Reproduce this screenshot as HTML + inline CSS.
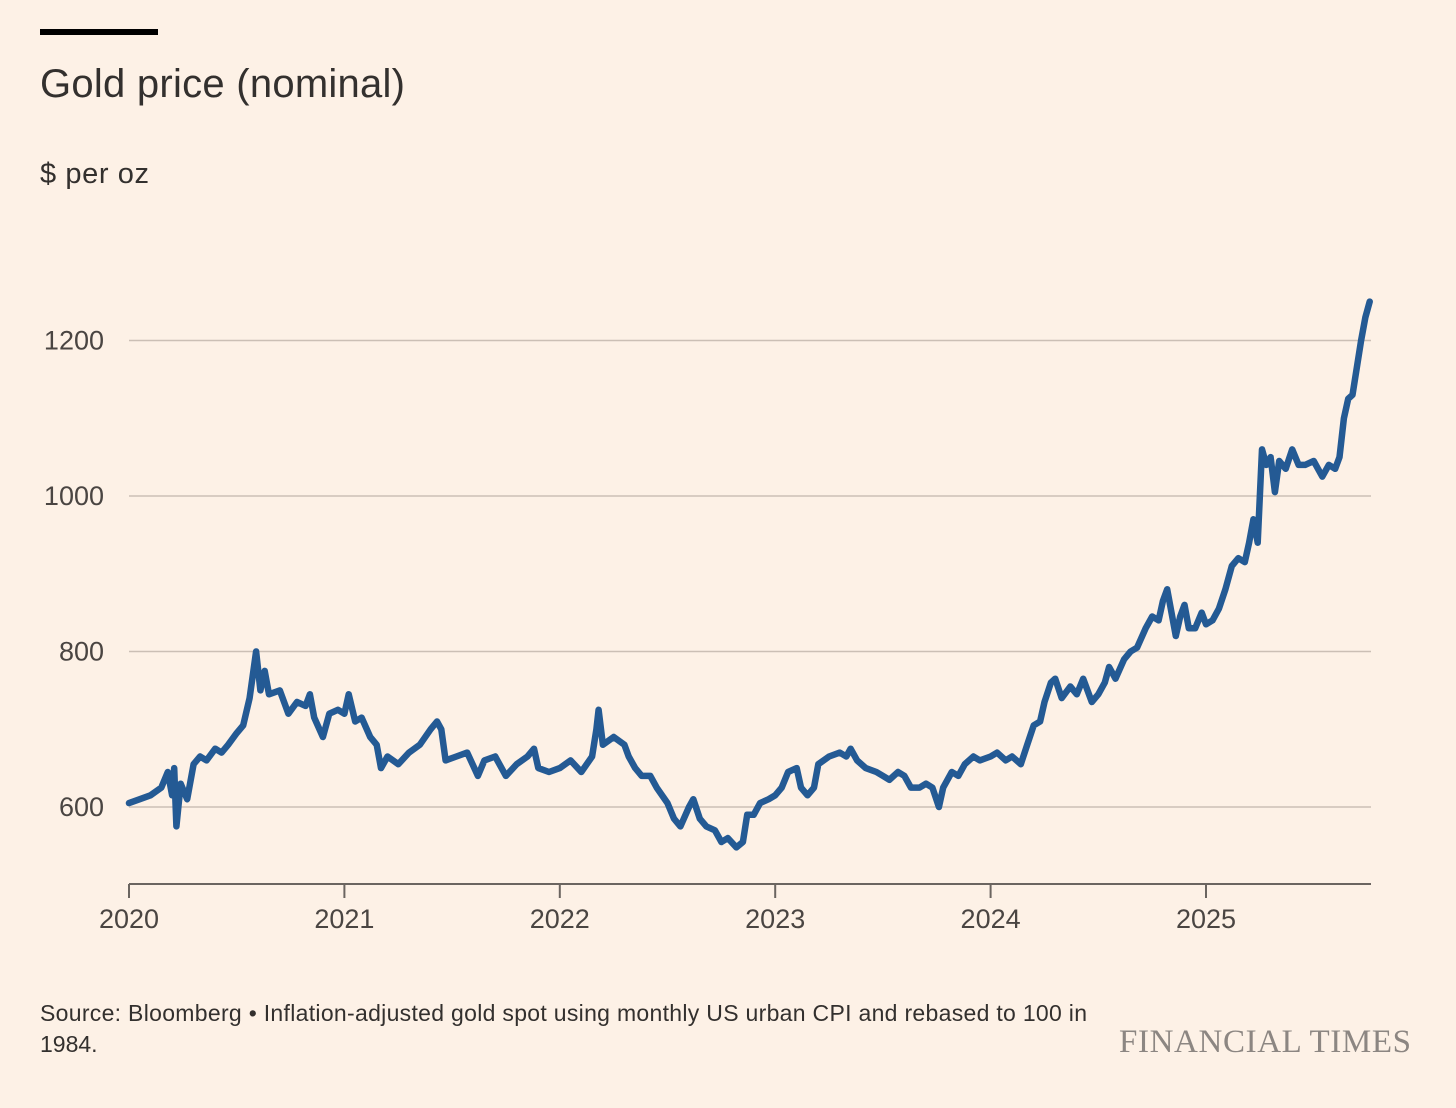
<!DOCTYPE html>
<html><head><meta charset="utf-8">
<style>
html,body{margin:0;padding:0;background:#fdf1e6;}
body{width:1456px;height:1103px;overflow:hidden;position:relative;font-family:"Liberation Sans",sans-serif;color:#33302e;}
</style></head>
<body>
<svg id="chart" width="1456" height="1103" viewBox="0 0 1456 1103">
<rect x="40" y="29" width="118" height="6" fill="#000"/>
<text x="40" y="97" font-size="40" fill="#33302e" textLength="365">Gold price (nominal)</text>
<text x="40" y="183" font-size="29" fill="#33302e" textLength="109">$ per oz</text>
<g id="grid"></g>
<g id="xaxis"></g>
<path id="line" fill="none" stroke="#245a94" stroke-width="6.5" stroke-linejoin="round" stroke-linecap="round"/>
<text x="40" y="1021" font-size="23" fill="#33302e" textLength="1047">Source: Bloomberg • Inflation-adjusted gold spot using monthly US urban CPI and rebased to 100 in</text>
<text x="40" y="1052" font-size="23" fill="#33302e">1984.</text>
<text x="1411" y="1052" font-size="33" text-anchor="end" fill="#8c8682" font-family="Liberation Serif, serif" textLength="292">FINANCIAL TIMES</text>
</svg>
<script>
const yTicks=[600,800,1000,1200];
const xTicks=[2020,2021,2022,2023,2024,2025];
const dates=[2020.0,2020.05,2020.1,2020.15,2020.18,2020.2,2020.21,2020.22,2020.24,2020.27,2020.3,2020.33,2020.36,2020.4,2020.43,2020.46,2020.5,2020.53,2020.56,2020.59,2020.61,2020.63,2020.65,2020.7,2020.74,2020.78,2020.82,2020.84,2020.86,2020.9,2020.93,2020.97,2021.0,2021.02,2021.05,2021.08,2021.12,2021.15,2021.17,2021.2,2021.25,2021.3,2021.35,2021.4,2021.43,2021.45,2021.47,2021.52,2021.57,2021.62,2021.65,2021.7,2021.75,2021.8,2021.85,2021.88,2021.9,2021.95,2022.0,2022.05,2022.1,2022.15,2022.17,2022.18,2022.2,2022.25,2022.3,2022.32,2022.35,2022.38,2022.42,2022.45,2022.5,2022.53,2022.56,2022.6,2022.62,2022.65,2022.68,2022.72,2022.75,2022.78,2022.82,2022.85,2022.87,2022.9,2022.93,2022.97,2023.0,2023.03,2023.06,2023.1,2023.12,2023.15,2023.18,2023.2,2023.25,2023.3,2023.33,2023.35,2023.38,2023.42,2023.47,2023.5,2023.53,2023.57,2023.6,2023.63,2023.67,2023.7,2023.73,2023.76,2023.78,2023.82,2023.85,2023.88,2023.92,2023.95,2024.0,2024.03,2024.07,2024.1,2024.14,2024.17,2024.2,2024.23,2024.25,2024.28,2024.3,2024.33,2024.37,2024.4,2024.43,2024.47,2024.5,2024.53,2024.55,2024.58,2024.62,2024.65,2024.68,2024.72,2024.75,2024.78,2024.8,2024.82,2024.84,2024.86,2024.88,2024.9,2024.92,2024.95,2024.98,2025.0,2025.03,2025.06,2025.09,2025.12,2025.15,2025.18,2025.2,2025.22,2025.24,2025.26,2025.28,2025.3,2025.32,2025.34,2025.37,2025.4,2025.43,2025.46,2025.5,2025.52,2025.54,2025.57,2025.6,2025.62,2025.64,2025.66,2025.68,2025.7,2025.72,2025.74,2025.76];
const prices=[605,610,615,625,645,615,650,575,630,610,655,665,660,675,670,680,695,705,740,800,750,775,745,750,720,735,730,745,715,690,720,725,720,745,710,715,690,680,650,665,655,670,680,700,710,700,660,665,670,640,660,665,640,655,665,675,650,645,650,660,645,665,700,725,680,690,680,665,650,640,640,625,605,585,575,600,610,585,575,570,555,560,548,555,590,590,605,610,615,625,645,650,625,615,625,655,665,670,665,675,660,650,645,640,635,645,640,625,625,630,625,600,625,645,640,655,665,660,665,670,660,665,655,680,705,710,735,760,765,740,755,745,765,735,745,760,780,765,790,800,805,830,845,840,865,880,850,820,845,860,830,830,850,835,840,855,880,910,920,915,940,970,940,1060,1040,1050,1005,1045,1035,1060,1040,1040,1045,1035,1025,1040,1035,1050,1100,1125,1130,1165,1200,1230,1250];
const X0=129,PX_YR=215.4,Y600=807,PX_PER=155.5/200,BASE=884,RIGHT=1371;
function xs(t){return X0+(t-2020)*PX_YR;}
function ys(v){return Y600-(v-600)*PX_PER;}
const ns="http://www.w3.org/2000/svg";
const grid=document.getElementById('grid');
yTicks.forEach(v=>{
  const l=document.createElementNS(ns,'line');
  l.setAttribute('x1',129);l.setAttribute('x2',RIGHT);
  l.setAttribute('y1',ys(v));l.setAttribute('y2',ys(v));
  l.setAttribute('stroke','#cbbfb5');l.setAttribute('stroke-width','1.5');
  
  
  grid.appendChild(l);
  const t=document.createElementNS(ns,'text');
  t.setAttribute('x',104);t.setAttribute('y',ys(v)+9);
  t.setAttribute('text-anchor','end');t.setAttribute('font-size','27');t.setAttribute('fill','#4a4542');
  t.textContent=v;
  
  
  grid.appendChild(t);
});
const xa=document.getElementById('xaxis');
const base=document.createElementNS(ns,'line');
base.setAttribute('x1',129);base.setAttribute('x2',RIGHT);base.setAttribute('y1',BASE);base.setAttribute('y2',BASE);
base.setAttribute('stroke','#6b6560');base.setAttribute('stroke-width','2');


xa.appendChild(base);
xTicks.forEach(yr=>{
  const tk=document.createElementNS(ns,'line');
  tk.setAttribute('x1',xs(yr));tk.setAttribute('x2',xs(yr));tk.setAttribute('y1',BASE);tk.setAttribute('y2',BASE+14);
  tk.setAttribute('stroke','#6b6560');tk.setAttribute('stroke-width','2');
  
  
  xa.appendChild(tk);
  const t=document.createElementNS(ns,'text');
  t.setAttribute('x',xs(yr));t.setAttribute('y',BASE+44);
  t.setAttribute('text-anchor','middle');t.setAttribute('font-size','27');t.setAttribute('fill','#4a4542');
  t.textContent=yr;
  
  
  xa.appendChild(t);
});
let d='';
dates.forEach((t,i)=>{d+=(i?'L':'M')+xs(t).toFixed(1)+','+ys(prices[i]).toFixed(1);});
document.getElementById('line').setAttribute('d',d);
</script>
</body></html>
